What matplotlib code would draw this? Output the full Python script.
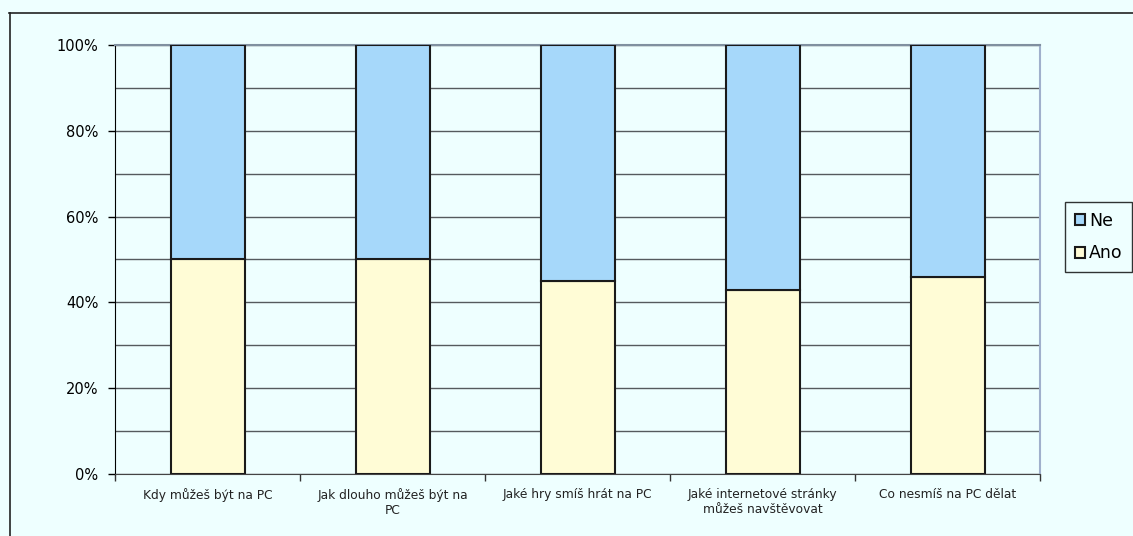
import numpy as np
import matplotlib.pyplot as plt
from matplotlib.lines import Line2D
from matplotlib.ticker import FixedLocator, MultipleLocator

plt.rcParams['font.family'] = ['DejaVu Sans']

categories = ["Kdy můžeš být na PC", "Jak dlouho můžeš být na\nPC",
              "Jaké hry smíš hrát na PC", "Jaké internetové stránky\nmůžeš navštěvovat",
              "Co nesmíš na PC dělat"]
ano = [50, 50, 45, 43, 46]
ne = [100 - a for a in ano]

bg = '#EEFFFF'
fig = plt.figure(figsize=(11.33, 5.36), dpi=100, facecolor=bg)
ax = fig.add_axes([115/1133, 62/536, 925/1133, 429/536])
ax.set_facecolor(bg)

x = np.arange(len(categories))
ax.bar(x, ano, width=0.4, color='#FFFCD6', edgecolor='#1a1a1a', linewidth=1.5, label='Ano', zorder=3)
ax.bar(x, ne, width=0.4, bottom=ano, color='#A6D8FA', edgecolor='#1a1a1a', linewidth=1.5, label='Ne', zorder=3)

ax.set_xlim(-0.5, len(categories) - 0.5)
ax.set_ylim(0, 100)

ax.yaxis.set_major_locator(MultipleLocator(20))
ax.set_yticklabels([f"{int(v)}%" for v in ax.get_yticks()])
ax.yaxis.set_minor_locator(MultipleLocator(10))
ax.grid(axis='y', which='both', color='#555a5e', linewidth=1.0, zorder=0)
ax.tick_params(axis='y', which='major', direction='out', length=5, width=1, labelsize=10.5, pad=7)
ax.tick_params(axis='y', which='minor', length=0)

ax.set_xticks(x)
ax.set_xticklabels(categories, fontsize=8.8, linespacing=1.25, color='#222222')
ax.tick_params(axis='x', which='major', length=0, pad=10)
ax.xaxis.set_minor_locator(FixedLocator(np.arange(len(categories) + 1) - 0.5))
ax.tick_params(axis='x', which='minor', direction='out', length=5, width=1, color='#333333')

ax.spines['left'].set_color('black')
ax.spines['bottom'].set_color('#444444')
ax.spines['right'].set_color('#A0B0CC')
ax.spines['top'].set_color('#8090A0')
ax.spines['right'].set_linewidth(1.5)
ax.spines['top'].set_linewidth(1.5)

# outer chart frame
fig.add_artist(Line2D([9.5/1133, 9.5/1133], [0, 1 - 13/536], transform=fig.transFigure, color='#222222', linewidth=1.2))
fig.add_artist(Line2D([9/1133, 1], [1 - 13/536, 1 - 13/536], transform=fig.transFigure, color='#222222', linewidth=1.2))

handles, labels = ax.get_legend_handles_labels()
leg = fig.legend(handles[::-1], labels[::-1], loc='upper left',
                 bbox_to_anchor=(1065/1133, 1 - 202/536), fontsize=12.5,
                 frameon=True, fancybox=False, edgecolor='black', facecolor=bg,
                 handlelength=0.6, handleheight=0.6, handletextpad=0.25,
                 borderpad=0.55, labelspacing=0.85, borderaxespad=0)
leg.get_frame().set_linewidth(1.0)

fig.savefig('out.png', dpi=100, facecolor=bg)
